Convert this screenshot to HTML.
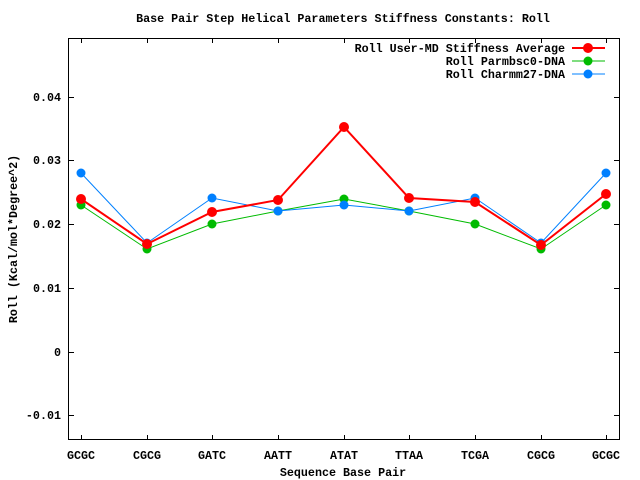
<!DOCTYPE html>
<html><head><style>body{margin:0;background:#fff}svg{display:block}text{font-family:"Liberation Mono","DejaVu Sans Mono",monospace;font-weight:bold;font-size:11.7px;fill:#000}</style></head><body>
<svg width="640" height="480" xmlns="http://www.w3.org/2000/svg">
<rect x="68.5" y="38.5" width="551" height="401" fill="none" stroke="#000" stroke-width="1"/>
<g stroke="#000" stroke-width="1">
<line x1="68.5" y1="97.5" x2="74" y2="97.5"/><line x1="619.5" y1="97.5" x2="614" y2="97.5"/>
<line x1="68.5" y1="160.5" x2="74" y2="160.5"/><line x1="619.5" y1="160.5" x2="614" y2="160.5"/>
<line x1="68.5" y1="224.5" x2="74" y2="224.5"/><line x1="619.5" y1="224.5" x2="614" y2="224.5"/>
<line x1="68.5" y1="288.5" x2="74" y2="288.5"/><line x1="619.5" y1="288.5" x2="614" y2="288.5"/>
<line x1="68.5" y1="352.5" x2="74" y2="352.5"/><line x1="619.5" y1="352.5" x2="614" y2="352.5"/>
<line x1="68.5" y1="415.5" x2="74" y2="415.5"/><line x1="619.5" y1="415.5" x2="614" y2="415.5"/>
<line x1="81.5" y1="440" x2="81.5" y2="435"/><line x1="81.5" y1="38" x2="81.5" y2="43"/>
<line x1="147.5" y1="440" x2="147.5" y2="435"/><line x1="147.5" y1="38" x2="147.5" y2="43"/>
<line x1="212.5" y1="440" x2="212.5" y2="435"/><line x1="212.5" y1="38" x2="212.5" y2="43"/>
<line x1="278.5" y1="440" x2="278.5" y2="435"/><line x1="278.5" y1="38" x2="278.5" y2="43"/>
<line x1="344.5" y1="440" x2="344.5" y2="435"/><line x1="344.5" y1="38" x2="344.5" y2="43"/>
<line x1="409.5" y1="440" x2="409.5" y2="435"/><line x1="409.5" y1="38" x2="409.5" y2="43"/>
<line x1="475.5" y1="440" x2="475.5" y2="435"/><line x1="475.5" y1="38" x2="475.5" y2="43"/>
<line x1="541.5" y1="440" x2="541.5" y2="435"/><line x1="541.5" y1="38" x2="541.5" y2="43"/>
<line x1="606.5" y1="440" x2="606.5" y2="435"/><line x1="606.5" y1="38" x2="606.5" y2="43"/>
</g>
<g text-anchor="end">
<text x="61" y="101">0.04</text><text x="61" y="164">0.03</text><text x="61" y="228">0.02</text>
<text x="61" y="292">0.01</text><text x="61" y="356">0</text><text x="61" y="419">-0.01</text>
</g>
<g text-anchor="middle">
<text x="81" y="459">GCGC</text><text x="147" y="459">CGCG</text><text x="212" y="459">GATC</text>
<text x="278" y="459">AATT</text><text x="344" y="459">ATAT</text><text x="409" y="459">TTAA</text>
<text x="475" y="459">TCGA</text><text x="541" y="459">CGCG</text><text x="606" y="459">GCGC</text>
<text x="343" y="476">Sequence Base Pair</text>
<text x="343" y="22">Base Pair Step Helical Parameters Stiffness Constants: Roll</text>
<text transform="translate(17,239) rotate(-90)">Roll (Kcal/mol*Degree^2)</text>
</g>
<g text-anchor="end">
<text x="565" y="52">Roll User-MD Stiffness Average</text>
<text x="565" y="65">Roll Parmbsc0-DNA</text>
<text x="565" y="78">Roll Charmm27-DNA</text>
</g>
<line x1="572" y1="48" x2="605" y2="48" stroke="#f00" stroke-width="2"/><circle cx="588" cy="48" r="5" fill="#f00"/>
<line x1="572" y1="61" x2="605" y2="61" stroke="#0b0" stroke-width="1"/><circle cx="588" cy="61" r="4.5" fill="#0b0"/>
<line x1="572" y1="74" x2="605" y2="74" stroke="#0080ff" stroke-width="1"/><circle cx="588" cy="74" r="4.5" fill="#0080ff"/>
<g fill="#0b0"><polyline fill="none" stroke="#0b0" stroke-width="1" points="81,205 147,249 212,224 278,211 344,199 409,211 475,224 541,249 606,205"/>
<circle cx="81" cy="205" r="4.5"/><circle cx="147" cy="249" r="4.5"/><circle cx="212" cy="224" r="4.5"/><circle cx="278" cy="211" r="4.5"/><circle cx="344" cy="199" r="4.5"/><circle cx="409" cy="211" r="4.5"/><circle cx="475" cy="224" r="4.5"/><circle cx="541" cy="249" r="4.5"/><circle cx="606" cy="205" r="4.5"/></g>
<g fill="#0080ff"><polyline fill="none" stroke="#0080ff" stroke-width="1" points="81,173 147,243 212,198 278,211 344,205 409,211 475,198 541,243 606,173"/>
<circle cx="81" cy="173" r="4.5"/><circle cx="147" cy="243" r="4.5"/><circle cx="212" cy="198" r="4.5"/><circle cx="278" cy="211" r="4.5"/><circle cx="344" cy="205" r="4.5"/><circle cx="409" cy="211" r="4.5"/><circle cx="475" cy="198" r="4.5"/><circle cx="541" cy="243" r="4.5"/><circle cx="606" cy="173" r="4.5"/></g>
<g fill="#f00"><polyline fill="none" stroke="#f00" stroke-width="2" points="81,199 147,244 212,212 278,200 344,127 409,198 475,202 541,245 606,194"/>
<circle cx="81" cy="199" r="5"/><circle cx="147" cy="244" r="5"/><circle cx="212" cy="212" r="5"/><circle cx="278" cy="200" r="5"/><circle cx="344" cy="127" r="5"/><circle cx="409" cy="198" r="5"/><circle cx="475" cy="202" r="5"/><circle cx="541" cy="245" r="5"/><circle cx="606" cy="194" r="5"/></g>
</svg>
</body></html>
